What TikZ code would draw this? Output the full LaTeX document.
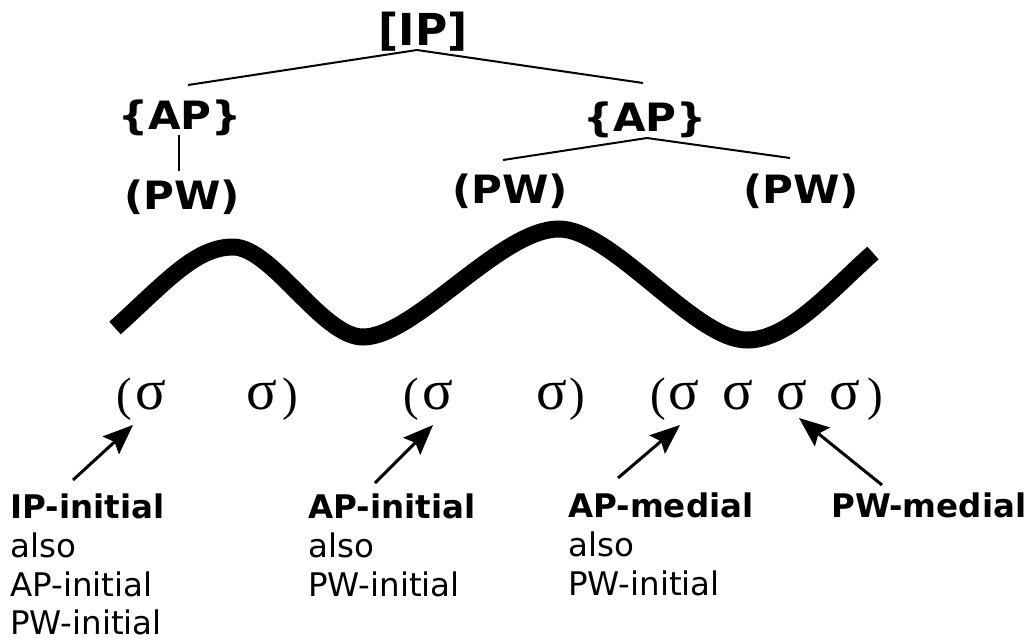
\documentclass[tikz,border=0pt]{standalone}
\usepackage{fontspec}
\usepackage{graphicx}
\setmainfont{DejaVu Sans}
\newfontfamily\sigmafont{Liberation Serif}
\usetikzlibrary{arrows.meta}
\begin{document}
\begin{tikzpicture}[x=1pt,y=-1pt,
  tree/.style={inner sep=0pt, anchor=base, font=\fontsize{39}{40}\selectfont\bfseries},
  sig/.style={inner sep=0pt, anchor=base, font=\fontsize{57}{58}\sigmafont},
  par/.style={inner sep=0pt, anchor=base, font=\fontsize{47}{48}\sigmafont},
  lab/.style={inner sep=0pt, anchor=base west, font=\fontsize{32.5}{34}\selectfont},
  labb/.style={inner sep=0pt, anchor=base west, font=\fontsize{32.5}{34}\selectfont\bfseries},
  branch/.style={line width=2pt},
  pointer/.style={line width=3pt, -{Stealth[length=30pt,width=24pt,inset=5pt]}},
  wave/.style={line width=17pt}]
\useasboundingbox (0,0) rectangle (1032,641);

% tree labels
\node[tree, font=\fontsize{44}{46}\selectfont\bfseries] (ip) at (423,45) {[IP]};
\node[tree] (apL) at (180,129) {\scalebox{1.08}[1]{\{AP\}}};
\node[tree] (pwL) at (182,209) {\scalebox{1.08}[1]{(PW)}};
\node[tree] (apR) at (645,131) {\scalebox{1.08}[1]{\{AP\}}};
\node[tree] (pwM) at (510,203) {\scalebox{1.08}[1]{(PW)}};
\node[tree] (pwR) at (801,203) {\scalebox{1.08}[1]{(PW)}};

% branches
\coordinate (ipapex) at (417,50);
\coordinate (ipL) at (188,85);
\coordinate (ipR) at (643,83);
\draw[branch] (ipL) -- (ipapex) -- (ipR);
\coordinate (apLfoot) at (179,135);
\coordinate (pwLtop) at (179,171);
\draw[branch] (apLfoot) -- (pwLtop);
\coordinate (apRapex) at (647,138);
\coordinate (apRL) at (503,160);
\coordinate (apRR) at (790,158);
\draw[branch] (apRL) -- (apRapex) -- (apRR);

% wave
\coordinate (w0) at (115,328);
\coordinate (w1) at (233,247);
\coordinate (w2) at (363,337);
\coordinate (w3) at (559,229);
\coordinate (w4) at (747,340);
\coordinate (w5) at (873,253);
\draw[wave] (w0) .. controls (165,283) and (195,247) .. (w1)
  .. controls (272,247) and (322,337) .. (w2)
  .. controls (415,337) and (500,229) .. (w3)
  .. controls (612,229) and (695,340) .. (w4)
  .. controls (790,340) and (833,288) .. (w5);

% syllables
\node[par] (o1) at (124,410) {(};
\node[sig] (s1) at (151,409) {σ};
\node[sig] (s2) at (262,409) {σ};
\node[par] (c1) at (290,410) {)};
\node[par] (o2) at (411,410) {(};
\node[sig] (s3) at (438,409) {σ};
\node[sig] (s4) at (552,409) {σ};
\node[par] (c2) at (577,410) {)};
\node[par] (o3) at (658,410) {(};
\node[sig] (s5) at (684,409) {σ};
\node[sig] (s6) at (738,409) {σ};
\node[sig] (s7) at (792,409) {σ};
\node[sig] (s8) at (845,409) {σ};
\node[par] (c3) at (875,410) {)};

% labels
\node[labb] (l1a) at (10,518) {IP-initial};
\node[lab] (l1b) at (10,557) {also};
\node[lab] (l1c) at (10,596) {AP-initial};
\node[lab] (l1d) at (10,634) {PW-initial};
\node[labb] (l2a) at (308,518) {AP-initial};
\node[lab] (l2b) at (308,557) {also};
\node[lab] (l2c) at (308,596) {PW-initial};
\node[labb] (l3a) at (568,517) {AP-medial};
\node[lab] (l3b) at (568,556) {also};
\node[lab] (l3c) at (568,595) {PW-initial};
\node[labb] (l4a) at (831,517) {PW-medial};

% arrows
\coordinate (t1) at (73,480);  \coordinate (h1) at (133,425);
\coordinate (t2) at (375,483); \coordinate (h2) at (433,425);
\coordinate (t3) at (618,478); \coordinate (h3) at (680,425);
\coordinate (t4) at (882,485); \coordinate (h4) at (799,418);
\draw[pointer] (t1) -- (h1);
\draw[pointer] (t2) -- (h2);
\draw[pointer] (t3) -- (h3);
\draw[pointer] (t4) -- (h4);
\end{tikzpicture}
\end{document}
